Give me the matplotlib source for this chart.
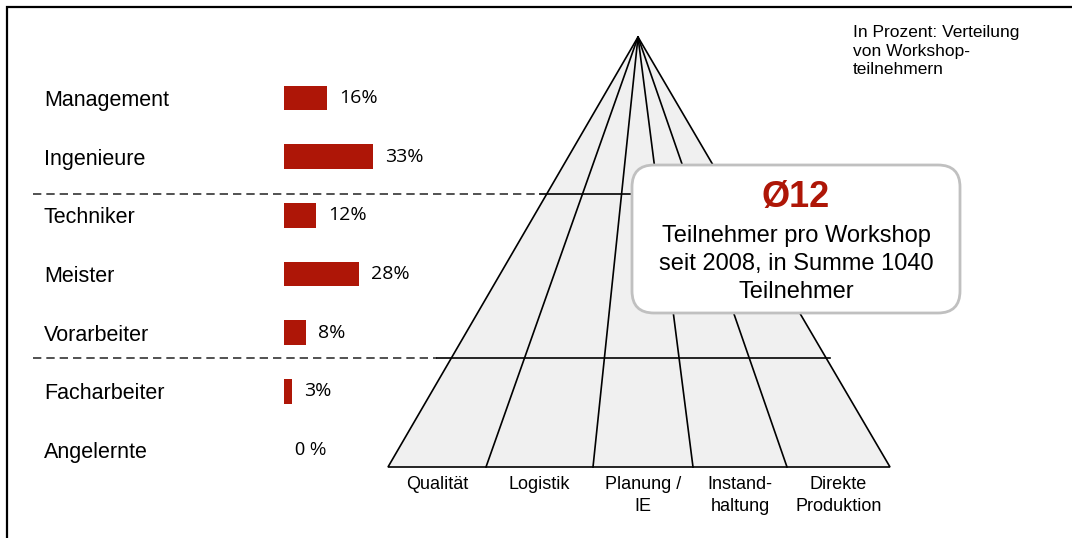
import matplotlib.pyplot as plt
from matplotlib.patches import Polygon, FancyBboxPatch

# data
roles = ["Management", "Ingenieure", "Techniker", "Meister",
         "Vorarbeiter", "Facharbeiter", "Angelernte"]
shares = [16, 33, 12, 28, 8, 3, 0]
areas = ["Qualität", "Logistik", "Planung /\nIE", "Instand-\nhaltung", "Direkte\nProduktion"]
note = "In Prozent: Verteilung\nvon Workshop-\nteilnehmern"
avg_label = "Ø12"
avg_text = "Teilnehmer pro Workshop\nseit 2008, in Summe 1040\nTeilnehmer"

RED = "#AE1607"
W, H = 1072, 538
plt.rcParams["font.family"] = ["Liberation Sans", "DejaVu Sans"]

fig = plt.figure(figsize=(W / 100, H / 100), dpi=100)
ax = fig.add_axes([0, 0, 1, 1])
ax.set_xlim(0, W)
ax.set_ylim(H, 0)
ax.axis("off")

# frame (top + left)
ax.plot([7, 7, W + 5], [H + 5, 7, 7], color="black", lw=1.6, solid_joinstyle="miter")

# pyramid geometry (pixel layout)
apex = (638, 37)
base_y = 467
base_x = [388, 486, 593, 693, 787, 890]
ax.add_patch(Polygon([apex, (base_x[0], base_y), (base_x[-1], base_y)],
                     closed=True, facecolor="#f0f0f0", edgecolor="black", lw=1.2, zorder=2))
for bx in base_x[1:-1]:
    ax.plot([apex[0], bx], [apex[1], base_y], color="black", lw=1.2, zorder=3)

# level separators
ax.plot([33, 540], [194, 194], color="#333333", lw=1.2, ls=(0, (5, 3)), zorder=3)
ax.plot([540, 640], [194, 194], color="black", lw=1.2, zorder=3)
ax.plot([33, 437], [358, 358], color="#333333", lw=1.2, ls=(0, (5, 3)), zorder=3)
ax.plot([437, 830], [358, 358], color="black", lw=1.2, zorder=3)

# area labels under the pyramid
for i, name in enumerate(areas):
    cx = (base_x[i] + base_x[i + 1]) / 2
    ax.text(cx, 476, name, ha="center", va="top", fontsize=13, linespacing=1.4, zorder=4)

# note top right
ax.text(853, 25, note, ha="left", va="top", fontsize=12.5, linespacing=1.3)

# callout box
box = FancyBboxPatch((632, 165), 328, 148, boxstyle="round,pad=0,rounding_size=22",
                     facecolor="white", edgecolor="#c0c0c0", lw=2.0, zorder=5)
ax.add_patch(box)
ax.text(796, 197, avg_label, ha="center", va="center", fontsize=26,
        fontweight="bold", color=RED, zorder=6)
ax.text(796, 264, avg_text, ha="center", va="center", fontsize=17,
        linespacing=1.33, zorder=6)

# bar chart on its own percent scale
px_per_pct = 2.69
row_h = 58.67
top = 98 - row_h / 2
n = len(roles)
ax_bar = fig.add_axes([284 / W, (H - (top + n * row_h)) / H,
                       100 * px_per_pct / W, n * row_h / H])
ax_bar.patch.set_visible(False)
ax_bar.barh(range(n), shares, height=0.42, color=RED)
ax_bar.set_xlim(0, 100)
ax_bar.set_ylim(n - 0.5, -0.5)
for s in ax_bar.spines.values():
    s.set_visible(False)
ax_bar.set_xticks([])
ax_bar.set_yticks(range(n))
ax_bar.set_yticklabels(roles, fontsize=15.5)
ax_bar.tick_params(axis="y", length=0, pad=(284 - 44) * 0.72)
for lbl in ax_bar.get_yticklabels():
    lbl.set_ha("left")
for i, v in enumerate(shares):
    if v == 0:
        ax_bar.text(4.0, i, "0 %", ha="left", va="center", fontsize=13)
    else:
        ax_bar.text(v + 4.5, i, f"{v}%", ha="left", va="center",
                    fontsize=14, family="Open Sans")

fig.savefig("out.png", dpi=100)
